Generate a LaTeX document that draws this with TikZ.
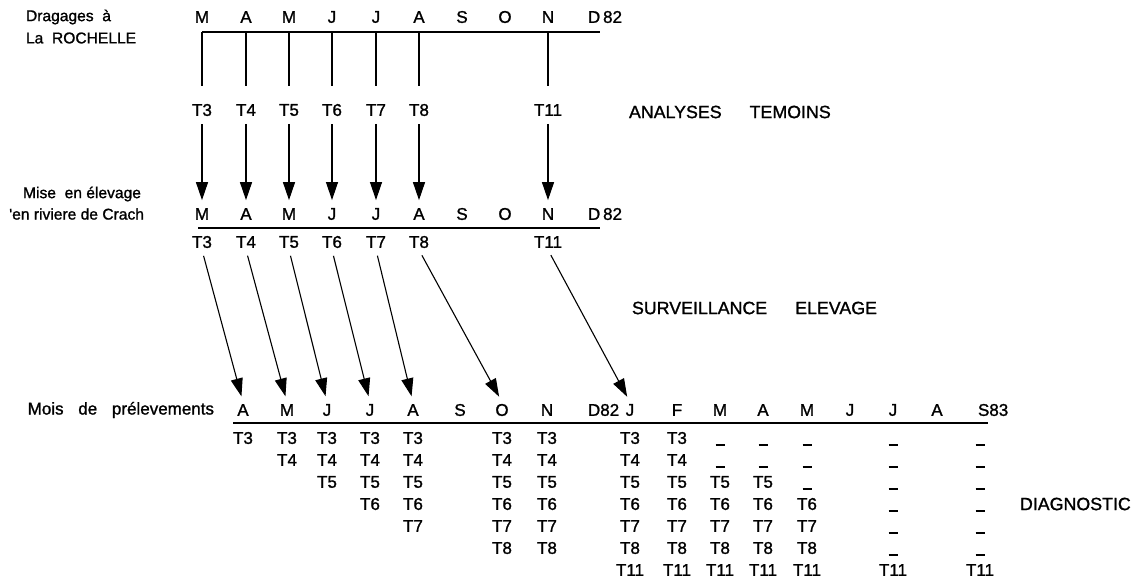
\documentclass[tikz,border=0pt]{standalone}
\usepackage{fontspec}
\setmainfont{Liberation Sans}
\newfontfamily\printface{Liberation Sans}[FakeBold=1.2]
\usetikzlibrary{arrows.meta}
\newcommand\rowlab[1]{T\ifcase#1\or3\or4\or5\or6\or7\or8\or11\fi}
\begin{document}
\begin{tikzpicture}[x=0.5pt,y=-0.5pt,
  lbl/.style={font=\printface\fontsize{8.5}{10}\selectfont, inner sep=0.8pt},
  side/.style={font=\printface\fontsize{7.8}{9}\selectfont, inner sep=0.8pt},
  title/.style={font=\printface\fontsize{8.9}{10}\selectfont, inner sep=0.8pt},
  axis/.style={line width=0.75pt},
  tick/.style={line width=0.6pt},
  arr/.style={line width=0.55pt, -{Triangle[length=9pt,width=6pt]},
              shorten <=3pt, shorten >=3pt},
  dashmark/.style={inner sep=0pt}]
\useasboundingbox (0,0) rectangle (1140,585);

% ---- row labels on the left ----
\node[side, anchor=west] (drag)  at (24,17)  {Dragages\ \ à};
\node[side, anchor=west] (roch)  at (24,38)  {La\ \ ROCHELLE};
\node[side, anchor=east] (mise)  at (143,194) {Mise\ \ en élevage};
\node[side, anchor=east] (crach) at (146,214) {'en riviere de Crach};
\node[lbl, anchor=east] (mois)  at (216,410) {Mois\hspace{5pt} de\hspace{5pt} prélevements};

% ---- section titles on the right ----
\node[title, anchor=west] (anal) at (627,112) {ANALYSES\hspace{14pt}TEMOINS};
\node[title, anchor=west] (surv) at (630,308) {SURVEILLANCE\hspace{14pt}ELEVAGE};
\node[title, anchor=west] (diag) at (1018,504) {DIAGNOSTIC};

% ---- months of dredging (top) and of rearing (middle) ----
\foreach \i/\x/\m in {1/202/M,2/246/A,3/289/M,4/332/J,5/376/J,6/419/A,7/462/S,8/505/O,9/548/N}{
  \node[lbl] (a\i) at (\x,17)  {\m};
  \node[lbl] (m\i) at (\x,214) {\m};
}
\node[lbl, anchor=west] (a10) at (586,17)  {D\,82};
\node[lbl, anchor=west] (m10) at (586,214) {D\,82};

\coordinate (L1) at (202,32);  \coordinate (R1) at (600,32);
\coordinate (K1) at (0,86);
\coordinate (L2) at (198,228); \coordinate (R2) at (600,228);
\draw[axis] (L1) -- (R1);
\draw[axis] (L2) -- (R2);

% ---- batches T3 ... T11 ----
\foreach \i/\j/\x/\t in {1/1/202/3,2/2/246/4,3/3/289/5,4/4/332/6,5/5/376/7,6/6/419/8,7/9/548/11}{
  \node[lbl] (t\i) at (\x,110) {T\t};
  \node[lbl] (u\i) at (\x,242) {T\t};
  \draw[tick] (t\i |- L1) -- (t\i |- K1);
  \draw[arr] (t\i.south) -- (m\j.north);
}

% ---- sampling months (bottom) ----
\foreach \i/\x/\m in {1/243/A,2/287/M,3/327/J,4/370/J,5/413/A,6/460/S,7/502/O,8/547/N,
                      10/630/J,11/677/F,12/720/M,13/763/A,14/807/M,15/850/J,16/893/J,17/937/A}{
  \node[lbl] (b\i) at (\x,410) {\m};
}
\node[lbl, anchor=west] (b9)  at (586,410) {D82};
\node[lbl, anchor=west] (b18) at (976,410) {S83};
\coordinate (L3) at (233,423); \coordinate (R3) at (988,423);
\draw[axis] (L3) -- (R3);

% ---- transfers from rearing to sampling ----
\foreach \i/\k in {1/1,2/2,3/3,4/4,5/5,6/7,7/10}{
  \draw[arr] (u\i.south) -- (b\k.north);
}

% ---- batches examined each month ----
\foreach \c/\x/\n in {1/243/1,2/287/2,3/327/3,4/370/4,5/413/5,6/502/6,7/547/6,8/630/7,9/677/7}{
  \foreach \r in {1,...,\n}{
    \pgfmathsetmacro\yy{438+22*(\r-1)}
    \node[lbl] (c\c-\r) at (\x,\yy) {\rowlab{\r}};
  }
}
% columns where the first batches are no longer present
\foreach \c/\x/\d in {10/720/2,11/763/2,12/807/3,13/893/6,14/980/6}{
  \foreach \r in {1,...,7}{
    \pgfmathsetmacro\yy{438+22*(\r-1)}
    \ifnum\r>\d
      \node[lbl] (c\c-\r) at (\x,\yy) {\rowlab{\r}};
    \else
      \node[dashmark] (c\c-\r) at (\x,\yy+7) {\rule{4.5pt}{0.8pt}};
    \fi
  }
}
\end{tikzpicture}
\end{document}
